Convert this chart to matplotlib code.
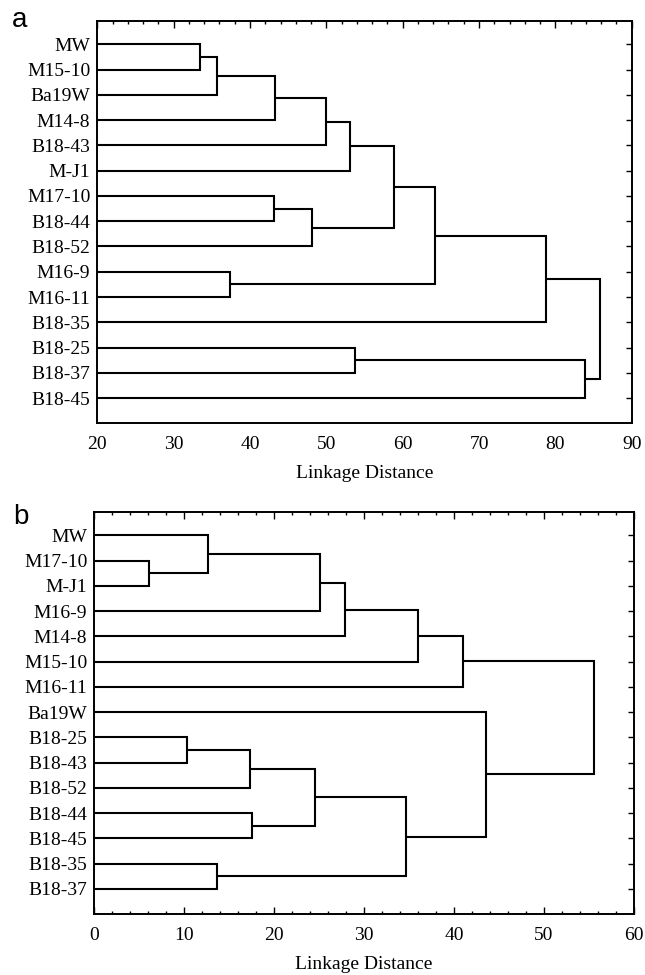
import numpy as np
import matplotlib
matplotlib.use('Agg')
import matplotlib.pyplot as plt
from matplotlib.ticker import MultipleLocator

#leaf order (top to bottom) and merges (child, child, linkage distance)
a_leaves = ["MW", "M15-10", "Ba19W", "M14-8", "B18-43", "M-J1", "M17-10", "B18-44",
            "B18-52", "M16-9", "M16-11", "B18-35", "B18-25", "B18-37", "B18-45"]
a_merges = [("MW", "M15-10", 33.4),      # c0
            ("c0", "Ba19W", 35.7),       # c1
            ("c1", "M14-8", 43.3),       # c2
            ("c2", "B18-43", 49.9),      # c3
            ("c3", "M-J1", 53.1),        # c4
            ("M17-10", "B18-44", 43.2),  # c5
            ("c5", "B18-52", 48.1),      # c6
            ("c4", "c6", 58.8),          # c7
            ("M16-9", "M16-11", 37.4),   # c8
            ("c7", "c8", 64.2),          # c9
            ("c9", "B18-35", 78.8),      # c10
            ("B18-25", "B18-37", 53.8),  # c11
            ("c11", "B18-45", 83.9),     # c12
            ("c10", "c12", 85.9)]        # c13

b_leaves = ["MW", "M17-10", "M-J1", "M16-9", "M14-8", "M15-10", "M16-11", "Ba19W",
            "B18-25", "B18-43", "B18-52", "B18-44", "B18-45", "B18-35", "B18-37"]
b_merges = [("M17-10", "M-J1", 6.1),     # c0
            ("MW", "c0", 12.6),          # c1
            ("c1", "M16-9", 25.05),      # c2
            ("c2", "M14-8", 27.9),       # c3
            ("c3", "M15-10", 36.0),      # c4
            ("c4", "M16-11", 41.0),      # c5
            ("B18-25", "B18-43", 10.35), # c6
            ("c6", "B18-52", 17.3),      # c7
            ("B18-44", "B18-45", 17.5),  # c8
            ("c7", "c8", 24.55),         # c9
            ("B18-35", "B18-37", 13.6),  # c10
            ("c9", "c10", 34.6),         # c11
            ("Ba19W", "c11", 43.5),      # c12
            ("c5", "c12", 55.5)]         # c13

a_ticks = [20, 30, 40, 50, 60, 70, 80, 90]
b_ticks = [0, 10, 20, 30, 40, 50, 60]

serif = 'Liberation Serif'
lw = 1.5


def draw_dendro(ax, leaves, merges, xmin):
    nodes = {}
    for i, nm in enumerate(leaves):
        nodes[nm] = (xmin, i + 1)
    for k, (c1, c2, h) in enumerate(merges):
        x1, y1 = nodes[c1]
        x2, y2 = nodes[c2]
        ax.plot([x1, h, h, x2], [y1, y1, y2, y2], color='k', lw=lw,
                solid_joinstyle='miter', solid_capstyle='butt')
        nodes['c' + str(k)] = (h, (y1 + y2) / 2.0)


def style_axes(ax, leaves, ticks, bottom_ticks):
    ax.set_yticks(np.arange(1, len(leaves) + 1))
    ax.set_yticklabels(leaves, fontsize=14, family=serif)
    ax.set_ylim(len(leaves) + 1.0, 0.06)
    ax.set_xlim(ticks[0], ticks[-1])
    ax.set_xticks(ticks)
    ax.set_xticklabels([str(t) for t in ticks], fontsize=14, family=serif)
    ax.xaxis.set_minor_locator(MultipleLocator(2))
    ax.tick_params(axis='y', left=False, right=True, direction='in', length=4,
                   width=1, pad=5)
    ax.tick_params(axis='x', which='major', top=True, bottom=bottom_ticks,
                   direction='in', length=5, width=1, pad=9)
    ax.tick_params(axis='x', which='minor', top=True, bottom=bottom_ticks,
                   direction='in', length=2.5, width=1)
    for sp in ax.spines.values():
        sp.set_linewidth(1.4)
    ax.set_xlabel('Linkage Distance', fontsize=14, family=serif, labelpad=9)


fig = plt.figure(figsize=(6.45, 9.75), dpi=100)

ax1 = fig.add_axes([97.3 / 645, 1 - 423.3 / 975, (631.7 - 97.3) / 645, (423.3 - 20.7) / 975])
draw_dendro(ax1, a_leaves, a_merges, a_ticks[0])
style_axes(ax1, a_leaves, a_ticks, False)

ax2 = fig.add_axes([94.3 / 645, 1 - 914.0 / 975, (634.0 - 94.3) / 645, (914.0 - 511.7) / 975])
draw_dendro(ax2, b_leaves, b_merges, b_ticks[0])
style_axes(ax2, b_leaves, b_ticks, True)

#panel letters
fig.text(20 / 645, 1 - 20 / 975, 'a', fontsize=20, family='Liberation Sans', ha='center', va='center')
fig.text(21 / 645, 1 - 517 / 975, 'b', fontsize=20, family='Liberation Sans', ha='center', va='center')

fig.savefig('out.png', dpi=100)
